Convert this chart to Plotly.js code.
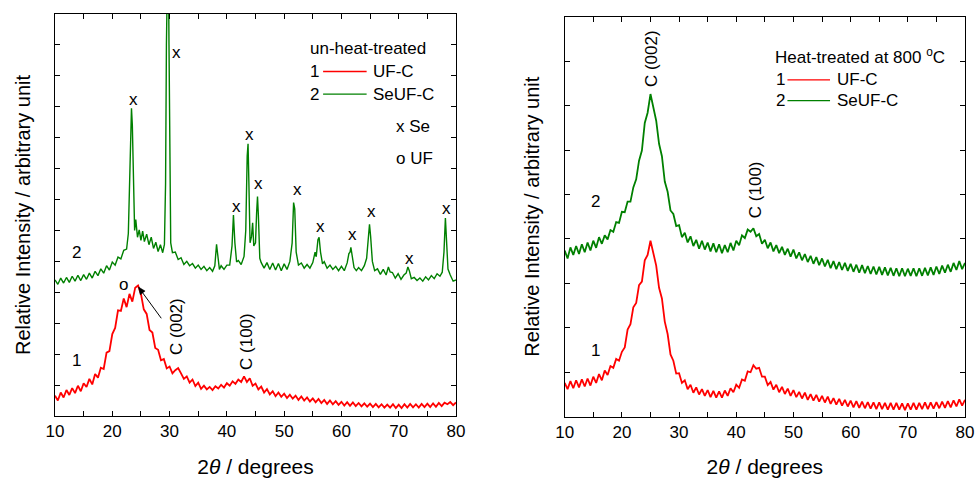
<!DOCTYPE html>
<html>
<head>
<meta charset="utf-8">
<script src="https://cdn.plot.ly/plotly-3.0.1.min.js"></script>
<style>html,body{margin:0;padding:0;background:#fff;}#chart{width:976px;height:481px;}</style>
</head>
<body>
<div id="chart"></div>
<script>
// shared 2-theta sampling grid (degrees)
const twoTheta = [10,10.5,11,11.5,12,12.5,13,13.5,14,14.5,15,15.5,16,16.5,17,17.5,18,18.5,19,19.5,
20,20.5,21,21.5,22,22.5,23,23.5,24,24.5,25,25.5,26,26.5,27,27.5,28,28.5,29,29.5,
30,30.5,31,31.5,32,32.5,33,33.5,34,34.5,35,35.5,36,36.5,37,37.5,38,38.5,39,39.5,
40,40.5,41,41.5,42,42.5,43,43.5,44,44.5,45,45.5,46,46.5,47,47.5,48,48.5,49,49.5,
50,50.5,51,51.5,52,52.5,53,53.5,54,54.5,55,55.5,56,56.5,57,57.5,58,58.5,59,59.5,
60,60.5,61,61.5,62,62.5,63,63.5,64,64.5,65,65.5,66,66.5,67,67.5,68,68.5,69,69.5,
70,70.5,71,71.5,72,72.5,73,73.5,74,74.5,75,75.5,76,76.5,77,77.5,78,78.5,79,79.5,80];

// Left panel: un-heat-treated
const ufcRaw = [0.66,0.50,0.76,0.60,0.84,0.68,0.90,0.74,0.98,0.80,1.06,0.94,1.20,1.02,1.36,1.24,1.56,1.52,2.05,2.10,
2.65,2.85,3.42,3.40,3.80,3.52,3.95,3.70,4.15,4.22,3.95,3.45,3.30,2.78,2.70,2.20,2.14,1.80,1.84,1.54,
1.60,1.38,1.48,1.55,1.38,1.20,1.28,1.08,1.18,0.97,1.08,0.88,0.98,0.86,0.94,0.84,0.96,0.89,1.01,0.92,
1.06,0.98,1.12,1.04,1.18,1.10,1.28,1.10,1.22,0.98,1.05,0.86,0.95,0.76,0.87,0.70,0.80,0.64,0.76,0.62,
0.72,0.58,0.69,0.56,0.66,0.52,0.63,0.50,0.60,0.47,0.57,0.44,0.55,0.42,0.52,0.39,0.50,0.38,0.48,0.36,
0.46,0.34,0.45,0.33,0.44,0.32,0.42,0.31,0.41,0.30,0.40,0.29,0.39,0.28,0.38,0.27,0.37,0.27,0.38,0.26,
0.37,0.26,0.38,0.27,0.39,0.28,0.38,0.27,0.39,0.29,0.40,0.29,0.41,0.30,0.42,0.32,0.43,0.38,0.45,0.35,0.44];

const seufcRawX = [10,10.5,11,11.5,12,12.5,13,13.5,14,14.5,15,15.5,16,16.5,17,17.5,18,18.5,19,19.5,
20,20.5,21,21.5,22,22.5,22.8,23.0,23.2,23.35,23.5,23.7,23.9,24.1,24.4,24.7,25,25.3,25.6,26,
26.4,26.8,27.2,27.6,28,28.4,28.8,29.1,29.3,29.45,29.6,29.75,29.9,30.05,30.2,30.5,31,31.5,32,32.5,
33,33.5,34,34.5,35,35.5,36,36.5,37,37.5,37.9,38.2,38.45,38.7,39,39.5,40,40.5,40.9,41.15,
41.4,41.7,42,42.5,43,43.3,43.55,43.7,43.85,44.05,44.3,44.5,44.7,45,45.2,45.35,45.5,45.75,46,46.5,
47,47.5,48,48.5,49,49.5,50,50.5,51,51.4,51.65,51.85,52.1,52.5,53,53.5,54,54.5,55,55.4,
55.6,55.9,56.1,56.35,56.7,57,57.5,58,58.5,59,59.5,60,60.5,61,61.3,61.5,61.65,61.9,62.2,62.6,
63,63.5,64,64.4,64.7,64.9,65.1,65.4,65.8,66.3,66.8,67.3,67.8,68.2,68.5,68.9,69.4,69.9,70.4,70.9,
71.3,71.6,71.85,72.2,72.7,73.2,73.7,74.2,74.7,75.2,75.7,76.2,76.7,77.2,77.6,77.9,78.15,78.35,78.6,79,79.5,80];
const seufcRaw = [4.40,4.26,4.46,4.30,4.48,4.32,4.52,4.36,4.55,4.38,4.57,4.42,4.62,4.46,4.68,4.54,4.76,4.62,4.86,4.72,
4.98,4.88,5.14,5.08,5.36,5.40,5.90,7.50,9.60,9.95,9.40,7.20,6.00,6.35,5.78,6.02,5.68,5.98,5.64,5.88,
5.54,5.78,5.42,5.62,5.32,5.54,5.28,5.55,7.50,12.0,16.0,16.0,12.0,7.00,5.60,5.28,5.30,5.06,5.12,4.90,
5.00,4.86,4.93,4.78,4.88,4.74,4.84,4.70,4.80,4.68,4.86,5.55,5.05,4.74,4.86,4.74,4.88,4.88,5.50,6.50,
5.60,4.98,5.03,4.90,5.16,6.00,8.40,8.80,7.50,5.60,5.80,6.25,5.50,5.60,6.60,7.10,6.50,5.10,4.96,4.78,
4.96,4.74,4.95,4.72,4.93,4.70,4.92,4.74,5.00,5.60,6.90,6.70,5.30,4.88,4.95,4.78,4.90,4.78,4.96,5.30,
5.15,5.70,5.78,5.30,4.92,4.99,4.78,4.88,4.74,4.84,4.70,4.84,4.70,4.95,5.25,5.30,5.45,5.10,4.80,4.70,
4.80,4.70,4.86,5.10,5.90,6.20,5.80,5.00,4.70,4.76,4.58,4.74,4.56,4.82,4.66,4.64,4.46,4.60,4.42,4.56,
4.62,4.82,4.70,4.44,4.48,4.38,4.46,4.36,4.50,4.40,4.54,4.44,4.60,4.52,4.65,5.30,6.40,5.80,4.75,4.56,4.36,4.40];

// Right panel: heat-treated at 800 C
const ufc800 = [0.76,0.62,0.80,0.64,0.82,0.66,0.84,0.68,0.86,0.70,0.90,0.76,0.96,0.82,1.04,0.94,1.14,1.10,1.30,1.26,
1.46,1.56,1.96,2.08,2.46,2.56,2.96,3.04,3.52,3.64,3.96,3.66,3.40,2.90,2.66,2.14,1.86,1.40,1.26,0.97,
0.98,0.76,0.82,0.62,0.72,0.54,0.66,0.50,0.62,0.47,0.60,0.44,0.58,0.43,0.57,0.43,0.59,0.47,0.64,0.55,
0.72,0.65,0.84,0.81,1.02,1.00,1.16,1.08,1.10,0.90,0.90,0.71,0.78,0.61,0.72,0.55,0.67,0.51,0.63,0.47,
0.60,0.44,0.56,0.41,0.54,0.38,0.51,0.36,0.49,0.34,0.47,0.32,0.45,0.29,0.42,0.27,0.40,0.25,0.38,0.23,
0.36,0.21,0.35,0.20,0.34,0.19,0.33,0.18,0.32,0.17,0.32,0.17,0.31,0.16,0.31,0.16,0.31,0.16,0.30,0.15,
0.30,0.16,0.31,0.16,0.31,0.17,0.32,0.17,0.32,0.18,0.33,0.19,0.34,0.20,0.35,0.21,0.37,0.23,0.39,0.25,0.38];
const seufc800 = [3.74,3.56,3.81,3.64,3.84,3.66,3.88,3.70,3.92,3.74,3.96,3.80,4.04,3.89,4.08,3.99,4.20,4.16,4.38,4.36,
4.61,4.60,4.84,4.84,5.16,5.34,5.76,5.99,6.61,6.84,7.26,6.99,6.66,6.14,5.86,5.29,5.06,4.64,4.56,4.29,
4.31,4.04,4.14,3.92,4.06,3.84,3.98,3.78,3.96,3.76,3.92,3.72,3.90,3.70,3.88,3.68,3.86,3.70,3.91,3.74,
3.96,3.86,4.08,4.02,4.21,4.16,4.24,4.06,4.11,3.89,3.98,3.79,3.92,3.72,3.86,3.68,3.82,3.64,3.78,3.60,
3.76,3.56,3.70,3.52,3.66,3.48,3.62,3.44,3.59,3.41,3.56,3.38,3.53,3.34,3.50,3.32,3.48,3.30,3.46,3.28,
3.44,3.26,3.42,3.24,3.41,3.23,3.39,3.21,3.38,3.20,3.37,3.19,3.36,3.18,3.35,3.17,3.34,3.16,3.34,3.16,
3.33,3.17,3.34,3.16,3.34,3.17,3.35,3.18,3.36,3.19,3.38,3.21,3.40,3.24,3.42,3.26,3.46,3.30,3.50,3.32,3.46];

// Se peak marker positions (2theta, label height) in left panel
const sePeakX = [23.7,31.2,41.6,43.9,45.6,52.3,56.4,61.9,65.3,71.95,78.4];
const sePeakY = [10.23,11.74,6.77,9.09,7.53,7.31,6.13,5.86,6.61,5.1,6.72];

const RED = '#ff0000', GREEN = '#008000';
const FONT = 'Liberation Sans, Arial, sans-serif';

const traces = [
  {x: twoTheta, y: ufcRaw, xaxis:'x', yaxis:'y', mode:'lines', line:{color:RED, width:1.8}, name:'UF-C'},
  {x: seufcRawX, y: seufcRaw, xaxis:'x', yaxis:'y', mode:'lines', line:{color:GREEN, width:1.4}, name:'SeUF-C'},
  {x: twoTheta, y: ufc800, xaxis:'x2', yaxis:'y2', mode:'lines', line:{color:RED, width:1.8}, name:'UF-C 800'},
  {x: twoTheta, y: seufc800, xaxis:'x2', yaxis:'y2', mode:'lines', line:{color:GREEN, width:1.8}, name:'SeUF-C 800'}
];

const txt = (xref, yref, x, y, text, opts) => Object.assign({xref, yref, x, y, text, showarrow:false,
  font:{family:FONT, size:17, color:'#000'}, xanchor:'center', yanchor:'middle'}, opts||{});

const annotations = [];
sePeakX.forEach((px, i) => annotations.push(txt('x','y', px, sePeakY[i], 'x')));
annotations.push(txt('x','y', 21.95, 4.24, 'o'));
annotations.push(txt('x','y', 31.3, 2.88, 'C (002)', {textangle:-90}));
annotations.push(txt('x','y', 43.55, 2.4, 'C (100)', {textangle:-90}));
annotations.push(txt('x','y', 13.7, 5.28, '2'));
annotations.push(txt('x','y', 13.7, 1.81, '1'));
// left legend
annotations.push(txt('x','y', 54.15, 11.87, 'un-heat-treated', {xanchor:'left'}));
annotations.push(txt('x','y', 54.2, 11.14, '1', {xanchor:'left'}));
annotations.push(txt('x','y', 65.1, 11.14, 'UF-C', {xanchor:'left'}));
annotations.push(txt('x','y', 54.2, 10.41, '2', {xanchor:'left'}));
annotations.push(txt('x','y', 65.1, 10.41, 'SeUF-C', {xanchor:'left'}));
annotations.push(txt('x','y', 69.2, 9.36, 'x Se', {xanchor:'left'}));
annotations.push(txt('x','y', 69.2, 8.34, 'o UF', {xanchor:'left'}));
// right panel
annotations.push(txt('x2','y2', 25.2, 8.06, 'C (002)', {textangle:-90}));
annotations.push(txt('x2','y2', 43.3, 5.1, 'C (100)', {textangle:-90}));
annotations.push(txt('x2','y2', 15.3, 4.84, '2'));
annotations.push(txt('x2','y2', 15.3, 1.5, '1'));
annotations.push(txt('x2','y2', 46.5, 8.12, 'Heat-treated at 800 <sup>o</sup>C', {xanchor:'left'}));
annotations.push(txt('x2','y2', 46.6, 7.58, '1', {xanchor:'left'}));
annotations.push(txt('x2','y2', 57.3, 7.58, 'UF-C', {xanchor:'left'}));
annotations.push(txt('x2','y2', 46.6, 7.11, '2', {xanchor:'left'}));
annotations.push(txt('x2','y2', 57.3, 7.11, 'SeUF-C', {xanchor:'left'}));

const shapes = [
  {type:'line', xref:'x', yref:'y', x0:56.8, x1:64.4, y0:11.14, y1:11.14, line:{color:RED, width:1.3}},
  {type:'line', xref:'x', yref:'y', x0:56.8, x1:64.4, y0:10.41, y1:10.41, line:{color:GREEN, width:1.3}},
  {type:'line', xref:'x2', yref:'y2', x0:48.95, x1:56.4, y0:7.58, y1:7.58, line:{color:RED, width:1.3}},
  {type:'line', xref:'x2', yref:'y2', x0:48.95, x1:56.4, y0:7.11, y1:7.11, line:{color:GREEN, width:1.3}},
  // arrow pointing from the C (002) label to the UF peak
  {type:'line', xref:'x', yref:'y', x0:28.55, y0:3.16, x1:25.2, y1:4.01, line:{color:'#000', width:1}},
  {type:'path', xref:'x', yref:'y', path:'M 24.58 4.17 L 25.73 4.04 L 24.88 3.92 Z',
   fillcolor:'#000', line:{color:'#000', width:0.5}}
];

const xAxisBase = {
  range:[10,80], dtick:10, tick0:10, ticks:'inside', ticklen:5, tickwidth:1, tickcolor:'#000',
  minor:{dtick:5, ticks:'inside', ticklen:5, tickwidth:1, tickcolor:'#000', showgrid:false},
  showline:true, linecolor:'#000', linewidth:1, mirror:'allticks', showgrid:false, zeroline:false,
  tickfont:{family:FONT, size:17, color:'#000'},
  title:{text:'2<i>θ</i> / degrees', font:{family:FONT, size:21, color:'#000'}, standoff:18},
  automargin:false, fixedrange:true
};
const yAxisBase = {
  dtick:1, tick0:0, ticks:'inside', ticklen:5, tickwidth:1, tickcolor:'#000', showticklabels:false,
  showline:true, linecolor:'#000', linewidth:1, mirror:'allticks', showgrid:false, zeroline:false,
  title:{text:'Relative Intensity / arbitrary unit', font:{family:FONT, size:20, color:'#000'}, standoff:18},
  automargin:false, fixedrange:true
};

const layout = {
  width:976, height:481, margin:{l:0, r:0, t:0, b:0},
  paper_bgcolor:'#fff', plot_bgcolor:'#fff', showlegend:false,
  font:{family:FONT, color:'#000'},
  xaxis: Object.assign({}, xAxisBase, {domain:[55/976, 456/976], anchor:'y'}),
  yaxis: Object.assign({}, yAxisBase, {domain:[65/481, 467/481], range:[0,13], anchor:'x'}),
  xaxis2: Object.assign({}, xAxisBase, {domain:[564.7/976, 965/976], anchor:'y2'}),
  yaxis2: Object.assign({}, yAxisBase, {domain:[64.3/481, 464.3/481], range:[0,9], anchor:'x2'}),
  annotations, shapes
};

Plotly.newPlot('chart', traces, layout, {displayModeBar:false, staticPlot:true});
</script>
</body>
</html>
